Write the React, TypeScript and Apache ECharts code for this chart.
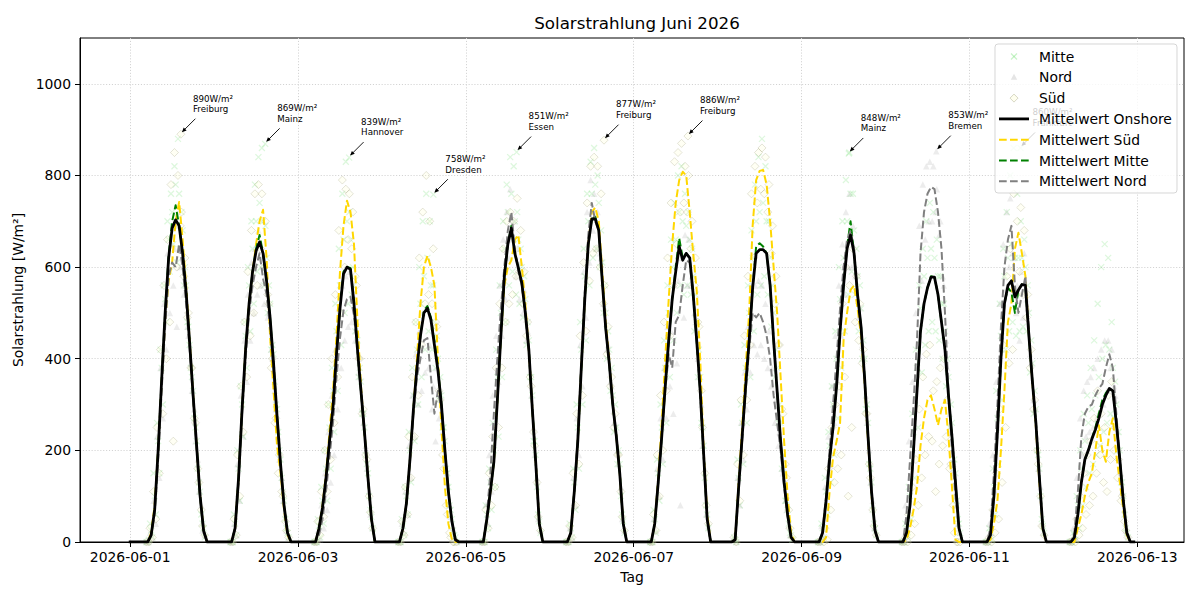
import { useEffect, useRef } from "react";
import * as echarts from "echarts";

// ---- axis ticks -----------------------------------------------------------
const tickHours = [0, 48, 96, 144, 192, 240, 288];
const tickLabels = ["2026-06-01", "2026-06-03", "2026-06-05", "2026-06-07", "2026-06-09", "2026-06-11", "2026-06-13"];
const yTicks = [0, 200, 400, 600, 800, 1000];

// hours of the day covered by the daylight arrays below (all other hours are 0 W/m²)
const daylightHours = [5, 6, 7, 8, 9, 10, 11, 12, 13, 14, 15, 16, 17, 18, 19, 20, 21];
// minute offset of each reading row relative to the full hour
const readingMinutes = [-20, 20, 0];

// ---- hourly means per day (W/m²) -------------------------------------------
const meanOnshore = [
  [0, 15, 70, 200, 354, 500, 620, 685, 703, 690, 630, 545, 435, 320, 210, 100, 25],
  [0, 30, 140, 290, 420, 520, 590, 635, 655, 630, 570, 490, 390, 275, 170, 80, 20],
  [0, 30, 75, 140, 220, 295, 410, 510, 585, 600, 595, 520, 420, 330, 240, 140, 50],
  [0, 30, 85, 180, 290, 380, 450, 500, 510, 485, 430, 375, 300, 200, 110, 45, 5],
  [0, 50, 110, 175, 310, 450, 580, 650, 685, 630, 598, 565, 500, 420, 290, 170, 40],
  [0, 20, 110, 220, 380, 530, 650, 705, 705, 680, 570, 465, 390, 300, 232, 150, 40],
  [0, 40, 130, 230, 340, 440, 530, 590, 645, 615, 630, 620, 540, 440, 330, 190, 50],
  [5, 120, 230, 340, 440, 555, 630, 638, 638, 630, 560, 440, 330, 220, 130, 60, 10],
  [0, 20, 90, 180, 250, 340, 460, 560, 640, 670, 630, 540, 470, 360, 230, 110, 25],
  [0, 20, 80, 200, 330, 460, 520, 555, 578, 578, 540, 480, 420, 320, 230, 130, 30],
  [0, 15, 100, 240, 400, 520, 560, 570, 535, 550, 562, 560, 450, 350, 260, 140, 30],
  [0, 10, 60, 130, 180, 200, 225, 245, 270, 300, 320, 335, 330, 260, 180, 90, 20],
];

const meanSued = [
  [0, 20, 80, 200, 350, 480, 570, 610, 700, 742, 660, 560, 440, 320, 210, 100, 25],
  [0, 30, 140, 290, 420, 520, 590, 650, 700, 725, 620, 450, 330, 210, 150, 70, 15],
  [0, 30, 80, 150, 240, 330, 450, 590, 690, 745, 720, 650, 480, 340, 240, 140, 50],
  [0, 30, 85, 180, 290, 400, 520, 600, 625, 600, 560, 400, 250, 120, 40, 5, 0],
  [0, 50, 110, 175, 310, 450, 560, 600, 615, 660, 670, 600, 520, 420, 290, 170, 40],
  [0, 20, 110, 220, 380, 530, 650, 720, 730, 700, 590, 480, 400, 300, 232, 150, 40],
  [0, 40, 140, 260, 400, 530, 650, 740, 790, 808, 800, 720, 630, 550, 400, 200, 60],
  [5, 130, 250, 380, 500, 690, 790, 810, 812, 780, 700, 600, 500, 360, 220, 100, 20],
  [0, 0, 10, 110, 185, 220, 260, 440, 500, 550, 560, 510, 450, 350, 220, 100, 25],
  [0, 5, 30, 70, 120, 210, 270, 310, 320, 290, 255, 290, 310, 230, 120, 5, 0],
  [0, 5, 40, 90, 200, 330, 480, 520, 640, 675, 630, 580, 450, 350, 250, 130, 25],
  [0, 0, 30, 60, 100, 130, 150, 200, 255, 200, 175, 240, 270, 190, 130, 70, 15],
];

const meanMitte = [
  [0, 15, 70, 200, 354, 500, 625, 700, 735, 690, 630, 545, 435, 320, 210, 100, 25],
  [0, 30, 140, 290, 420, 520, 590, 640, 670, 630, 570, 490, 390, 275, 170, 80, 20],
  [0, 30, 75, 140, 220, 295, 410, 515, 590, 600, 598, 525, 420, 330, 240, 140, 50],
  [0, 30, 85, 180, 290, 380, 450, 505, 515, 490, 440, 380, 300, 200, 110, 45, 5],
  [0, 50, 110, 175, 310, 450, 580, 650, 690, 630, 600, 565, 500, 420, 290, 170, 40],
  [0, 20, 110, 220, 380, 530, 650, 705, 710, 680, 570, 465, 390, 300, 232, 150, 40],
  [0, 40, 130, 230, 340, 440, 530, 600, 663, 620, 630, 620, 540, 440, 330, 190, 50],
  [5, 120, 230, 340, 440, 555, 645, 652, 645, 630, 560, 440, 330, 220, 130, 60, 10],
  [0, 20, 90, 180, 250, 340, 460, 560, 645, 700, 630, 540, 470, 360, 230, 110, 25],
  [0, 20, 80, 200, 330, 460, 520, 555, 580, 578, 540, 480, 420, 320, 230, 130, 30],
  [0, 15, 100, 240, 400, 520, 555, 545, 500, 550, 562, 560, 450, 350, 260, 140, 30],
  [0, 10, 60, 130, 180, 200, 225, 250, 280, 310, 325, 335, 330, 260, 180, 90, 20],
];

const meanNord = [
  [0, 15, 60, 180, 330, 470, 580, 610, 600, 650, 600, 520, 420, 310, 200, 95, 20],
  [0, 30, 130, 280, 400, 500, 560, 600, 630, 575, 540, 470, 370, 265, 165, 75, 20],
  [0, 15, 50, 110, 185, 260, 360, 445, 505, 530, 535, 495, 420, 330, 240, 140, 50],
  [0, 30, 85, 175, 280, 360, 400, 440, 445, 360, 280, 330, 290, 200, 110, 45, 5],
  [0, 60, 150, 280, 400, 510, 600, 680, 720, 640, 590, 560, 500, 420, 290, 170, 40],
  [0, 20, 110, 230, 390, 545, 670, 740, 700, 680, 570, 465, 390, 300, 232, 150, 40],
  [0, 40, 130, 230, 330, 410, 380, 480, 495, 560, 615, 610, 540, 440, 330, 190, 50],
  [5, 110, 220, 330, 420, 500, 490, 500, 480, 450, 400, 320, 260, 200, 120, 55, 10],
  [0, 25, 100, 200, 300, 400, 510, 600, 660, 680, 640, 540, 470, 360, 230, 110, 25],
  [0, 60, 180, 300, 440, 630, 720, 760, 775, 770, 720, 640, 500, 330, 200, 100, 30],
  [0, 30, 150, 300, 470, 600, 660, 690, 560, 500, 540, 580, 460, 350, 260, 140, 30],
  [0, 20, 110, 230, 280, 295, 300, 320, 335, 345, 380, 410, 380, 280, 180, 90, 20],
];

// ---- station readings per day, one row per reading time ---------------------
const readingsMitte = [
  [[0, 40, 150, 260, 420, 560, 700, 760, 820, 880, 720, 600, 470, 360, 250, 130, 40], [5, 10, 60, 150, 300, 480, 590, 650, 610, 640, 560, 480, 380, 270, 160, 60, 10], [0, 25, 100, 220, 380, 530, 660, 720, 780, 760, 680, 560, 430, 330, 220, 110, 30]],
  [[0, 60, 200, 340, 480, 600, 700, 780, 840, 860, 690, 560, 430, 300, 200, 110, 30], [0, 15, 90, 230, 380, 460, 520, 590, 600, 560, 500, 420, 350, 240, 140, 50, 10], [0, 40, 160, 300, 450, 560, 640, 700, 740, 700, 620, 520, 410, 290, 180, 90, 20]],
  [[0, 50, 120, 200, 300, 380, 520, 640, 760, 830, 720, 600, 480, 380, 280, 170, 70], [0, 10, 40, 90, 160, 240, 330, 430, 500, 520, 540, 460, 360, 280, 190, 100, 30], [0, 35, 90, 160, 250, 330, 460, 560, 660, 700, 660, 560, 440, 350, 250, 150, 55]],
  [[0, 50, 120, 240, 380, 480, 600, 700, 760, 700, 560, 450, 360, 250, 150, 70, 15], [0, 15, 60, 130, 220, 300, 360, 420, 460, 420, 380, 310, 250, 160, 80, 25, 0], [0, 35, 100, 200, 320, 420, 520, 580, 620, 560, 480, 400, 320, 220, 120, 50, 10]],
  [[0, 80, 160, 260, 420, 560, 700, 780, 840, 820, 720, 640, 580, 480, 360, 220, 60], [0, 30, 70, 120, 230, 360, 480, 560, 590, 540, 520, 490, 430, 360, 220, 120, 20], [0, 60, 130, 200, 360, 500, 640, 720, 760, 700, 660, 600, 530, 440, 320, 190, 45]],
  [[0, 40, 160, 300, 480, 640, 760, 830, 860, 800, 680, 560, 460, 380, 300, 200, 60], [0, 10, 70, 160, 300, 440, 560, 620, 640, 600, 500, 400, 330, 240, 170, 100, 20], [0, 30, 130, 250, 420, 580, 700, 760, 780, 740, 610, 500, 420, 320, 250, 170, 45]],
  [[0, 70, 180, 300, 440, 560, 660, 740, 800, 820, 760, 720, 640, 540, 420, 250, 80], [0, 20, 90, 170, 260, 360, 440, 500, 560, 540, 560, 540, 460, 360, 260, 140, 30], [0, 50, 150, 250, 380, 500, 600, 660, 720, 700, 690, 660, 580, 480, 360, 210, 60]],
  [[10, 180, 300, 430, 560, 680, 780, 840, 880, 820, 700, 560, 420, 300, 190, 90, 20], [0, 80, 170, 260, 360, 460, 540, 560, 580, 540, 470, 360, 260, 160, 90, 40, 5], [5, 140, 260, 380, 500, 620, 700, 720, 740, 700, 620, 500, 380, 260, 160, 70, 15]],
  [[0, 40, 140, 240, 340, 460, 600, 700, 790, 850, 760, 640, 560, 440, 300, 160, 40], [0, 10, 60, 130, 190, 270, 380, 460, 540, 590, 540, 460, 400, 290, 170, 70, 15], [0, 30, 110, 210, 300, 400, 530, 620, 700, 760, 680, 580, 510, 400, 260, 130, 30]],
  [[0, 40, 120, 280, 420, 560, 640, 700, 740, 720, 660, 580, 520, 400, 300, 180, 50], [0, 10, 50, 140, 250, 370, 430, 460, 480, 460, 440, 400, 340, 250, 170, 90, 20], [0, 30, 100, 240, 380, 510, 580, 620, 640, 620, 580, 520, 460, 360, 260, 150, 40]],
  [[0, 30, 160, 330, 520, 640, 720, 800, 860, 760, 700, 660, 560, 440, 330, 190, 50], [0, 5, 60, 170, 310, 420, 460, 480, 450, 460, 470, 460, 370, 280, 200, 100, 20], [0, 20, 120, 270, 450, 580, 620, 650, 620, 620, 620, 600, 500, 390, 290, 160, 35]],
  [[0, 20, 100, 200, 280, 320, 380, 440, 520, 600, 650, 620, 480, 350, 240, 130, 30], [0, 5, 30, 80, 120, 150, 170, 190, 210, 240, 260, 280, 270, 200, 130, 60, 10], [0, 15, 80, 160, 220, 260, 290, 320, 360, 400, 430, 420, 380, 300, 200, 100, 20]],
];

const readingsNord = [
  [[0, 20, 90, 230, 380, 520, 630, 650, 640, 690, 640, 560, 450, 330, 220, 110, 25], [0, 10, 40, 140, 270, 420, 500, 560, 470, 600, 540, 470, 390, 290, 180, 80, 15]],
  [[0, 40, 170, 320, 440, 540, 610, 640, 680, 620, 580, 500, 400, 290, 180, 90, 25], [0, 15, 90, 230, 350, 440, 500, 540, 560, 520, 490, 420, 330, 230, 140, 60, 10]],
  [[0, 25, 80, 150, 240, 320, 420, 510, 560, 580, 590, 540, 460, 360, 260, 160, 60], [0, 5, 30, 70, 130, 190, 290, 380, 440, 470, 480, 440, 370, 290, 210, 110, 30]],
  [[0, 40, 110, 210, 320, 410, 460, 500, 510, 430, 340, 380, 330, 230, 130, 55, 10], [0, 20, 60, 140, 230, 300, 330, 370, 380, 290, 220, 270, 240, 160, 80, 30, 0]],
  [[0, 80, 190, 320, 450, 560, 660, 720, 770, 700, 640, 610, 550, 460, 320, 190, 50], [0, 40, 110, 230, 350, 450, 530, 620, 660, 580, 530, 500, 440, 370, 250, 140, 25]],
  [[0, 30, 140, 270, 430, 590, 720, 790, 760, 720, 620, 510, 430, 340, 260, 170, 50], [0, 10, 80, 190, 340, 490, 610, 680, 640, 630, 520, 420, 350, 260, 200, 120, 25]],
  [[0, 50, 160, 270, 380, 470, 460, 560, 570, 620, 670, 660, 580, 480, 360, 210, 60], [0, 25, 100, 180, 270, 340, 280, 390, 80, 490, 560, 560, 500, 400, 300, 160, 35]],
  [[10, 140, 260, 370, 470, 560, 560, 570, 560, 520, 460, 380, 310, 240, 150, 70, 15], [0, 80, 180, 290, 370, 430, 410, 430, 400, 380, 340, 260, 210, 160, 90, 35, 5]],
  [[0, 35, 120, 230, 340, 450, 560, 650, 720, 760, 690, 590, 510, 400, 260, 130, 30], [0, 15, 80, 170, 260, 350, 450, 540, 600, 600, 580, 490, 430, 320, 200, 90, 20]],
  [[0, 80, 220, 350, 500, 690, 780, 820, 830, 820, 770, 700, 560, 380, 240, 120, 40], [0, 40, 140, 250, 380, 570, 660, 700, 700, 720, 670, 580, 440, 280, 160, 80, 20]],
  [[0, 40, 190, 350, 520, 650, 720, 750, 620, 560, 590, 630, 510, 390, 290, 160, 40], [0, 20, 110, 250, 420, 550, 600, 630, 500, 440, 490, 530, 410, 310, 230, 120, 20]],
  [[0, 30, 140, 270, 330, 350, 360, 380, 400, 420, 440, 440, 420, 320, 210, 110, 25], [0, 10, 80, 190, 230, 240, 250, 270, 280, 300, 330, 380, 340, 240, 150, 70, 15]],
];

const readingsSued = [
  [[0, 30, 110, 250, 420, 560, 660, 780, 850, 800, 720, 620, 500, 380, 260, 130, 35], [0, 10, 50, 150, 280, 400, 480, 220, 600, 690, 580, 490, 380, 270, 160, 70, 15]],
  [[0, 50, 190, 340, 480, 590, 680, 760, 780, 760, 700, 520, 400, 270, 190, 100, 25], [0, 15, 100, 240, 360, 450, 500, 560, 640, 600, 540, 380, 260, 150, 110, 45, 10]],
  [[0, 45, 110, 200, 300, 400, 540, 680, 790, 770, 760, 720, 560, 400, 290, 180, 65], [0, 15, 55, 110, 180, 260, 360, 500, 600, 660, 640, 580, 400, 280, 190, 100, 30]],
  [[0, 45, 120, 230, 360, 480, 620, 720, 800, 700, 640, 470, 310, 160, 60, 10, 0], [0, 15, 60, 140, 230, 320, 430, 520, 540, 520, 480, 330, 190, 80, 20, 0, 0]],
  [[0, 70, 150, 230, 380, 520, 640, 700, 720, 700, 750, 680, 590, 480, 340, 210, 55], [0, 30, 80, 120, 250, 380, 480, 520, 540, 580, 590, 520, 450, 360, 240, 130, 25]],
  [[0, 35, 150, 280, 450, 610, 740, 820, 840, 820, 760, 560, 470, 360, 280, 190, 55], [0, 10, 80, 170, 320, 460, 570, 630, 640, 600, 520, 410, 340, 250, 190, 110, 25]],
  [[0, 60, 190, 320, 480, 620, 740, 830, 850, 870, 820, 800, 700, 620, 470, 250, 80], [0, 25, 100, 200, 330, 450, 560, 650, 720, 740, 720, 640, 560, 480, 330, 150, 40]],
  [[10, 170, 310, 450, 580, 760, 820, 850, 860, 840, 780, 690, 580, 430, 280, 140, 30], [0, 90, 190, 310, 430, 620, 740, 770, 760, 720, 630, 520, 430, 290, 170, 70, 10]],
  [[0, 5, 30, 160, 250, 300, 340, 520, 600, 560, 640, 580, 520, 420, 280, 140, 35], [0, 0, 5, 70, 130, 160, 190, 360, 100, 250, 480, 440, 390, 280, 170, 70, 15]],
  [[0, 10, 60, 120, 180, 290, 360, 410, 430, 330, 350, 380, 400, 310, 170, 20, 0], [0, 0, 15, 40, 80, 140, 190, 230, 220, 110, 170, 210, 230, 160, 80, 0, 0]],
  [[0, 10, 70, 150, 290, 430, 580, 640, 760, 700, 730, 680, 540, 420, 310, 170, 35], [0, 0, 20, 50, 130, 250, 390, 420, 540, 590, 540, 490, 380, 290, 200, 100, 15]],
  [[0, 5, 50, 100, 150, 190, 220, 270, 330, 280, 250, 320, 350, 250, 180, 100, 25], [0, 0, 15, 30, 60, 80, 100, 150, 190, 130, 110, 180, 200, 140, 90, 45, 10]],
];

// ---- daily maxima (day of month, hour, W/m², station, region) ----------------
const peakDays = [1, 2, 3, 4, 5, 6, 7, 9, 10, 11];
const peakHours = [14.5, 14.6, 14.6, 14.7, 14.5, 15.5, 15.5, 13.5, 14.5, 14.6];
const peakValues = [890, 869, 839, 758, 851, 877, 886, 848, 853, 860];
const peakStations = ["Freiburg", "Mainz", "Hannover", "Dresden", "Essen", "Freiburg", "Freiburg", "Mainz", "Bremen", "Frankfurt"];
const peakRegions = ["Süd", "Mitte", "Mitte", "Mitte", "Mitte", "Süd", "Süd", "Mitte", "Nord", "Mitte"];

const FONT = "DejaVu Sans";

function hourlyCurve(days: number[][]): [number, number][] {
  const out: [number, number][] = [];
  days.forEach((vals, d) => {
    for (let h = 0; h < 24; h++) {
      const i = daylightHours.indexOf(h);
      out.push([d * 24 + h, i >= 0 ? vals[i] : 0]);
    }
  });
  return out;
}

function readingPoints(days: number[][][], region: string): [number, number][] {
  const out: [number, number][] = [];
  days.forEach((rows, d) => {
    rows.forEach((row, r) => {
      row.forEach((v, i) => {
        out.push([d * 24 + daylightHours[i] + readingMinutes[r] / 60, v]);
      });
    });
  });
  peakValues.forEach((v, i) => {
    if (peakRegions[i] === region) out.push([(peakDays[i] - 1) * 24 + peakHours[i], v]);
  });
  return out;
}

const MITTE_X = "path://M0,0L10,10M10,0L0,10";
const mitteMarker = { color: "rgba(0,0,0,0)", borderColor: "rgba(120,225,120,0.32)", borderWidth: 1.2 };
const nordMarker = { color: "rgba(150,150,150,0.22)", borderWidth: 0 };
const suedMarker = { color: "rgba(255,255,210,0.3)", borderColor: "rgba(150,150,110,0.32)", borderWidth: 1 };

const DASH = [7.7, 3.3];

function buildLegend() {
  const x0 = 995;
  const y0 = 44;
  const rowY = (i: number) => y0 + 12.5 + i * 20.8;
  const mx = 1014;
  const Z = 100;
  const children: any[] = [
    {
      type: "rect",
      z: Z,
      shape: { x: x0, y: y0, width: 182, height: 149, r: 3 },
      style: { fill: "rgba(255,255,255,0.8)", stroke: "rgba(204,204,204,0.8)", lineWidth: 1 },
    },
    { type: "line", z: Z, shape: { x1: mx - 3, y1: rowY(0) - 3, x2: mx + 3, y2: rowY(0) + 3 }, style: { stroke: "rgba(120,225,120,0.4)", lineWidth: 1.2 } },
    { type: "line", z: Z, shape: { x1: mx + 3, y1: rowY(0) - 3, x2: mx - 3, y2: rowY(0) + 3 }, style: { stroke: "rgba(120,225,120,0.4)", lineWidth: 1.2 } },
    {
      type: "polygon",
      z: Z,
      shape: { points: [[mx, rowY(1) - 3.5], [mx + 3.2, rowY(1) + 2.5], [mx - 3.2, rowY(1) + 2.5]] },
      style: { fill: "rgba(150,150,150,0.25)" },
    },
    {
      type: "polygon",
      z: Z,
      shape: { points: [[mx, rowY(2) - 4], [mx + 4, rowY(2)], [mx, rowY(2) + 4], [mx - 4, rowY(2)]] },
      style: { fill: "rgba(255,255,210,0.35)", stroke: "rgba(150,150,110,0.38)", lineWidth: 1 },
    },
    { type: "line", z: Z, shape: { x1: 999, y1: rowY(3), x2: 1029, y2: rowY(3) }, style: { stroke: "#000", lineWidth: 2.8 } },
    { type: "line", z: Z, shape: { x1: 999, y1: rowY(4), x2: 1029, y2: rowY(4) }, style: { stroke: "#FFD700", lineWidth: 2, lineDash: DASH } },
    { type: "line", z: Z, shape: { x1: 999, y1: rowY(5), x2: 1029, y2: rowY(5) }, style: { stroke: "#008000", lineWidth: 2, lineDash: DASH } },
    { type: "line", z: Z, shape: { x1: 999, y1: rowY(6), x2: 1029, y2: rowY(6) }, style: { stroke: "#808080", lineWidth: 2, lineDash: DASH } },
  ];
  const labels = ["Mitte", "Nord", "Süd", "Mittelwert Onshore", "Mittelwert Süd", "Mittelwert Mitte", "Mittelwert Nord"];
  labels.forEach((t, i) => {
    children.push({
      type: "text",
      z: Z + 1,
      x: 1039,
      y: rowY(i),
      style: { text: t, fill: "#000", fontSize: 13.9, fontFamily: FONT, verticalAlign: "middle", align: "left" },
    });
  });
  return children;
}

export default function App() {
  const ref = useRef<HTMLDivElement>(null);

  useEffect(() => {
    if (!ref.current) return;
    const chart = echarts.init(ref.current, null, { renderer: "svg" });

    const lineSeries = (name: string, data: number[][], color: string, dashed: boolean, width: number, z: number) => ({
      name,
      type: "line",
      data: hourlyCurve(data),
      symbol: "none",
      showSymbol: false,
      z,
      lineStyle: { color, width, type: dashed ? DASH : "solid", join: "round", cap: dashed ? "butt" : "square" },
      itemStyle: { color },
      emphasis: { disabled: true },
    });

    const option: any = {
      animation: false,
      backgroundColor: "#ffffff",
      textStyle: { fontFamily: FONT },
      title: {
        text: "Solarstrahlung Juni 2026",
        left: 632,
        top: 9,
        textAlign: "center",
        textStyle: { fontFamily: FONT, fontSize: 16.7, fontWeight: "normal", color: "#000" },
      },
      grid: {
        left: 80,
        right: 16,
        top: 38,
        bottom: 58,
        show: true,
        borderColor: "#000",
        borderWidth: 1,
        backgroundColor: "transparent",
        containLabel: false,
        outerBoundsMode: "none",
      },
      xAxis: {
        type: "value",
        min: -14.35,
        max: 301.35,
        name: "Tag",
        nameLocation: "middle",
        nameGap: 28,
        nameTextStyle: { color: "#000", fontSize: 13.9, fontFamily: FONT },
        axisLine: { show: true, onZero: false, lineStyle: { color: "#000", width: 1 } },
        axisTick: { show: true, inside: false, length: 5, customValues: tickHours, lineStyle: { color: "#000", width: 1 } },
        axisLabel: {
          customValues: tickHours,
          formatter: (v: number) => tickLabels[tickHours.indexOf(Math.round(v))] ?? "",
          color: "#000",
          fontSize: 13.9,
          fontFamily: FONT,
          margin: 8,
        },
        splitLine: { show: true, lineStyle: { color: "#d2d2d2", width: 1, type: [1.1, 1.8] } },
      },
      yAxis: {
        type: "value",
        min: 0,
        max: 1100,
        interval: 200,
        name: "Solarstrahlung [W/m²]",
        nameLocation: "middle",
        nameGap: 40,
        nameTextStyle: { color: "#000", fontSize: 13.9, fontFamily: FONT },
        axisLine: { show: true, onZero: false, lineStyle: { color: "#000", width: 1 } },
        axisTick: { show: true, inside: false, length: 5, customValues: yTicks, lineStyle: { color: "#000", width: 1 } },
        axisLabel: {
          customValues: yTicks,
          formatter: (v: number) => String(Math.round(v)),
          color: "#000",
          fontSize: 13.9,
          fontFamily: FONT,
          margin: 9,
        },
        splitLine: { show: true, lineStyle: { color: "#d2d2d2", width: 1, type: [1.1, 1.8] } },
      },
      series: [
        {
          name: "Mitte",
          type: "scatter",
          data: readingPoints(readingsMitte, "Mitte"),
          symbol: MITTE_X,
          symbolSize: 6,
          itemStyle: mitteMarker,
          z: 1,
          emphasis: { disabled: true },
        },
        {
          name: "Nord",
          type: "scatter",
          data: readingPoints(readingsNord, "Nord"),
          symbol: "triangle",
          symbolSize: 6.5,
          itemStyle: nordMarker,
          z: 1,
          emphasis: { disabled: true },
        },
        {
          name: "Süd",
          type: "scatter",
          data: readingPoints(readingsSued, "Süd"),
          symbol: "diamond",
          symbolSize: 8,
          itemStyle: suedMarker,
          z: 1,
          emphasis: { disabled: true },
        },
        lineSeries("Mittelwert Süd", meanSued, "#FFD700", true, 2, 2),
        lineSeries("Mittelwert Mitte", meanMitte, "#008000", true, 2, 2),
        lineSeries("Mittelwert Nord", meanNord, "#808080", true, 2, 2),
        lineSeries("Mittelwert Onshore", meanOnshore, "#000000", false, 2.8, 3),
        {
          name: "Tagesmaxima",
          type: "custom",
          z: 4,
          clip: false,
          silent: true,
          data: peakValues.map((v, i) => [(peakDays[i] - 1) * 24 + peakHours[i], v]),
          renderItem: (params: any, api: any) => {
            const p = api.coord([api.value(0), api.value(1)]);
            const i = params.dataIndex;
            const tx = p[0] + 1;
            const ty = p[1] - 2;
            return {
              type: "group",
              children: [
                {
                  type: "line",
                  shape: { x1: p[0] + 14.5, y1: p[1] - 15.5, x2: tx + 1, y2: ty - 1 },
                  style: { stroke: "#000", lineWidth: 0.9 },
                },
                {
                  type: "polygon",
                  shape: { points: [[tx, ty], [tx + 4.7, ty - 1.8], [tx + 1.8, ty - 4.7]] },
                  style: { fill: "#000" },
                },
                {
                  type: "text",
                  x: p[0] + 12,
                  y: p[1] - 41,
                  style: {
                    text: `${peakValues[i]}W/m²\n${peakStations[i]}`,
                    fill: "#000",
                    fontSize: 8.7,
                    fontFamily: FONT,
                    lineHeight: 10.6,
                    align: "left",
                    verticalAlign: "top",
                  },
                },
              ],
            };
          },
        },
      ],
      graphic: { elements: buildLegend() },
    };

    chart.setOption(option);
    return () => chart.dispose();
  }, []);

  return (
    <div
      ref={ref}
      style={{ position: "fixed", left: 0, top: 0, width: 1200, height: 600, background: "#fff" }}
    />
  );
}
